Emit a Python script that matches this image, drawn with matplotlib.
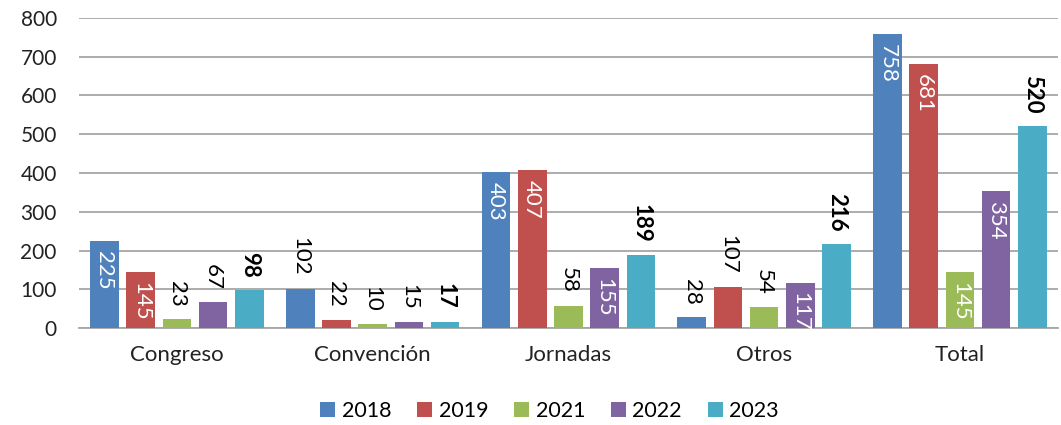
import matplotlib.pyplot as plt
import numpy as np

plt.rcParams['font.family'] = ['Lato', 'DejaVu Sans']

categorias = ['Congreso', 'Convención', 'Jornadas', 'Otros', 'Total']
anios = ['2018', '2019', '2021', '2022', '2023']
v2018 = [225, 102, 403, 28, 758]
v2019 = [145, 22, 407, 107, 681]
v2021 = [23, 10, 58, 54, 145]
v2022 = [67, 15, 155, 117, 354]
v2023 = [98, 17, 189, 216, 520]
series = [v2018, v2019, v2021, v2022, v2023]
colores = ['#4F81BD', '#C0504D', '#9BBB59', '#8064A2', '#4BACC6']

fig = plt.figure(figsize=(10.61, 4.25), dpi=100)
ax = fig.add_axes([0.0745, 0.228, 0.9225, 0.730])

x = np.arange(len(categorias))
paso = 0.185
ancho = 0.146
for i, (anio, vals, col) in enumerate(zip(anios, series, colores)):
    bars = ax.bar(x + (i - 2) * paso, vals, ancho, color=col, label=anio, zorder=3)
    negrita = anio == '2023'
    for rect, v in zip(bars, vals):
        cx = rect.get_x() + rect.get_width() / 2
        if v > 110 and not negrita:
            # etiqueta dentro de la barra
            ax.annotate(str(v), (cx, v), xytext=(0, -7), textcoords='offset points',
                        rotation=270, ha='center', va='top', color='white',
                        fontsize=16, zorder=4)
        else:
            ax.annotate(str(v), (cx, v), xytext=(0, 9), textcoords='offset points',
                        rotation=270, ha='center', va='bottom', color='black',
                        fontsize=16, fontweight='bold' if negrita else 'normal',
                        zorder=4)

ax.set_xlim(-0.5, len(categorias) - 0.5)
ax.set_ylim(0, 800)
ax.set_yticks(range(0, 801, 100))
ax.set_xticks(x)
ax.set_xticklabels(categorias)
ax.grid(axis='y', color='#A6A6A6', linewidth=1.3, zorder=0)
for s in ['top', 'right', 'left']:
    ax.spines[s].set_visible(False)
ax.spines['bottom'].set_color('#A6A6A6')
ax.spines['bottom'].set_linewidth(1.3)
ax.tick_params(axis='y', length=0, pad=16, labelsize=15, labelcolor='#222222')
ax.tick_params(axis='x', length=0, pad=12, labelsize=16, labelcolor='#222222')

fig.legend(loc='center', bbox_to_anchor=(0.518, 0.033), ncol=5, frameon=False,
           fontsize=15.5, handlelength=0.7, handleheight=0.7, handletextpad=0.3,
           columnspacing=1.2)

fig.savefig('out.png', dpi=100)
